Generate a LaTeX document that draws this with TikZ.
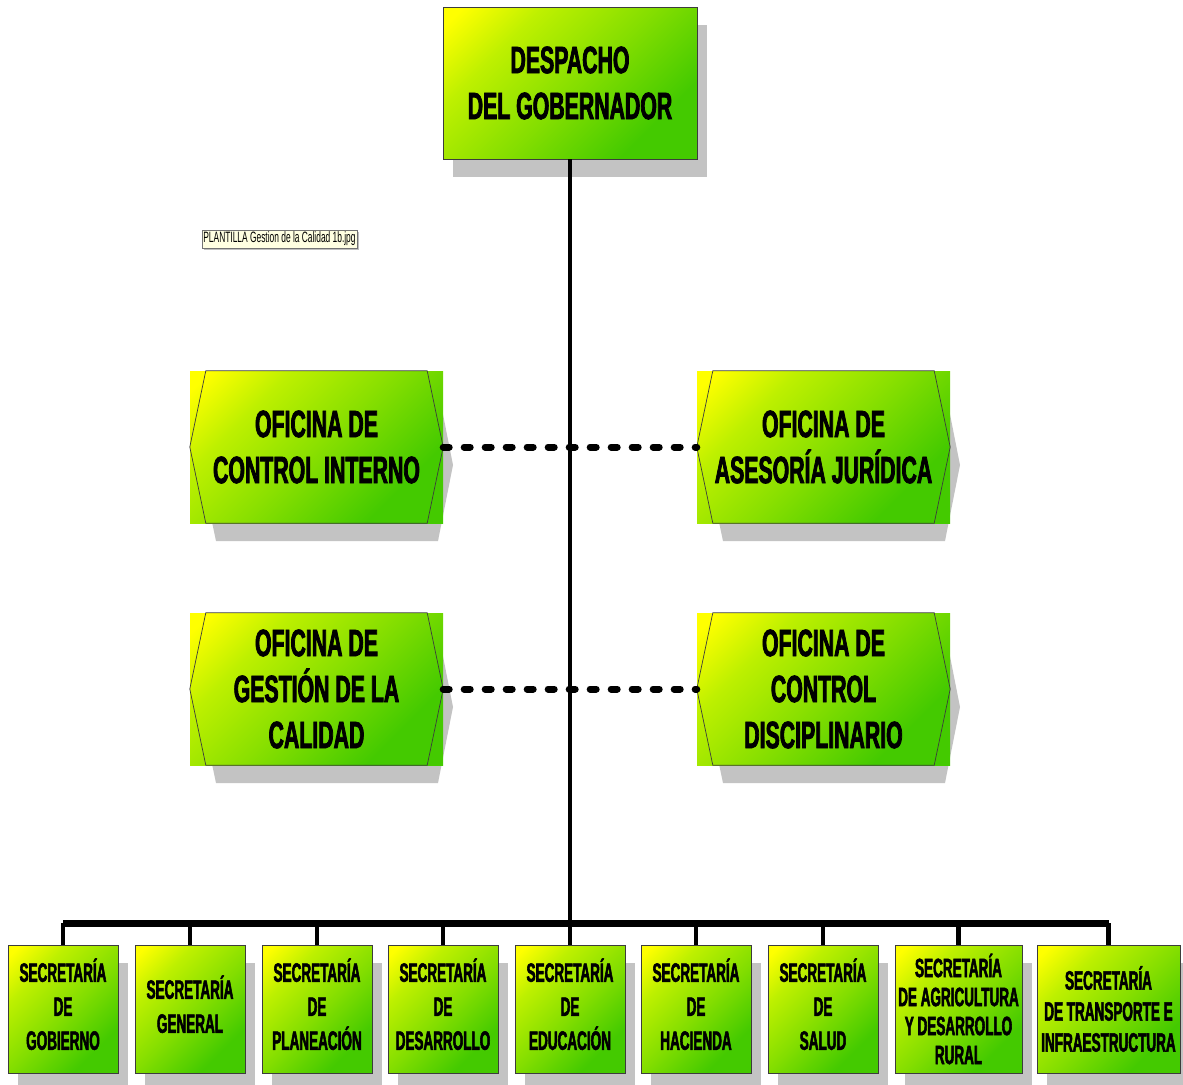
\documentclass[tikz,border=0pt]{standalone}
\usepackage{fontspec}
\usetikzlibrary{shadows}
\newfontfamily\orgfont{Liberation Sans}[FakeStretch=0.56,FakeBold=2]
\newfontfamily\secfont{Liberation Sans}[FakeStretch=0.51,FakeBold=2]
\newfontfamily\tipfont{Liberation Sans}[FakeStretch=0.56]
\definecolor{amarillo}{HTML}{FFFF00}
\definecolor{lima}{HTML}{BEF000}
\definecolor{limaosc}{HTML}{84DE00}
\definecolor{verde}{HTML}{44CA00}
\definecolor{sombra}{HTML}{C3C3C3}
\definecolor{borde}{HTML}{3C3C3C}
\definecolor{notafondo}{HTML}{FFFFE1}
\pgfdeclarehorizontalshading{amaverde}{100bp}{color(0bp)=(amarillo); color(18bp)=(amarillo); color(32bp)=(lima); color(52bp)=(limaosc); color(72bp)=(verde); color(100bp)=(verde)}
% oficina: caja con contorno hexagonal y sombra hexagonal
\newcommand{\oficina}[4]{%
\begin{scope}[shift={(#2,#3)}]
\fill[sombra] (-100.5,-58) -- (121.5,-58) -- (136.5,18) -- (121.5,94) -- (-100.5,94) -- (-116.5,18) -- cycle;
\end{scope}
\node[ofic] (#1) at (#2,#3) {#4};
\draw[borde, line width=0.7pt] ([xshift=16pt]#1.north west) -- ([xshift=-16pt]#1.north east) -- (#1.east)
  -- ([xshift=-16pt]#1.south east) -- ([xshift=16pt]#1.south west) -- (#1.west) -- cycle;
}
\begin{document}
\begin{tikzpicture}[x=1pt, y=-1pt,
  caja/.style={shade, shading=amaverde, shading angle=-45, inner sep=0pt, align=center, text=black},
  jefe/.style={caja, draw=borde, line width=0.8pt, minimum width=254pt, minimum height=152pt,
    font=\orgfont\bfseries\fontsize{38}{46}\selectfont,
    drop shadow={shadow xshift=10pt, shadow yshift=-18pt, fill=sombra, opacity=1}},
  ofic/.style={caja, minimum width=253pt, minimum height=152pt,
    font=\orgfont\bfseries\fontsize{38}{46}\selectfont},
  secre/.style={caja, draw=borde, line width=0.8pt, minimum width=110pt, minimum height=128pt,
    font=\secfont\bfseries\fontsize{26.5}{34}\selectfont,
    drop shadow={shadow xshift=10pt, shadow yshift=-18pt, fill=sombra, opacity=1}},
  nota/.style={fill=notafondo, draw=black!55, line width=0.5pt, minimum width=155pt, minimum height=18pt,
    inner sep=0pt, font=\tipfont\fontsize{15}{16}\selectfont,
    drop shadow={shadow xshift=2pt, shadow yshift=-2pt, fill=black!25, opacity=1}},
  tronco/.style={line width=4pt},
  barra/.style={line width=7pt},
  rama/.style={line width=4.5pt},
  enlace/.style={line width=7pt, line cap=round, dash pattern=on 6pt off 15pt}]
\useasboundingbox (0,0) rectangle (1183,1084);

\node[jefe] (despacho) at (570,83) {DESPACHO\\DEL GOBERNADOR};
\node[nota] (plantilla) at (279.5,239) {PLANTILLA Gestion de la Calidad 1b.jpg};

\coordinate (bus) at (570,923);

% secretarias
\foreach \i/\x/\t in {1/63/{SECRETARÍA\\DE\\GOBIERNO}, 2/190/{SECRETARÍA\\GENERAL},
    3/317/{SECRETARÍA\\DE\\PLANEACIÓN}, 4/443/{SECRETARÍA\\DE\\DESARROLLO},
    5/570/{SECRETARÍA\\DE\\EDUCACIÓN}, 6/696/{SECRETARÍA\\DE\\HACIENDA},
    7/823/{SECRETARÍA\\DE\\SALUD}}
  \node[secre] (sec\i) at (\x,1009) {\t\\[-24pt]};
\node[secre, minimum width=127pt, font=\secfont\bfseries\fontsize{26.5}{29}\selectfont] (sec8) at (958.5,1009)
  {SECRETARÍA\\DE AGRICULTURA\\Y DESARROLLO\\RURAL};
\node[secre, minimum width=143pt, font=\secfont\bfseries\fontsize{26.5}{31}\selectfont] (sec9) at (1108.5,1009)
  {SECRETARÍA\\DE TRANSPORTE E\\INFRAESTRUCTURA};

% oficinas
\oficina{interno}{316.5}{447}{OFICINA DE\\CONTROL INTERNO}
\oficina{juridica}{823.5}{447}{OFICINA DE\\ASESORÍA JURÍDICA}
\oficina{calidad}{316.5}{689}{OFICINA DE\\GESTIÓN DE LA\\CALIDAD}
\oficina{disciplinario}{823.5}{689}{OFICINA DE\\CONTROL\\DISCIPLINARIO}

\draw[enlace] (interno.east) -- (juridica.west);
\draw[enlace] (calidad.east) -- (disciplinario.west);

\draw[tronco] (despacho.south) -- (bus);
\draw[barra] (sec1.north |- bus) -- (sec9.north |- bus);
\foreach \i in {1,...,9}
  \draw[rama] (sec\i.north |- bus) -- (sec\i.north);
\end{tikzpicture}
\end{document}
